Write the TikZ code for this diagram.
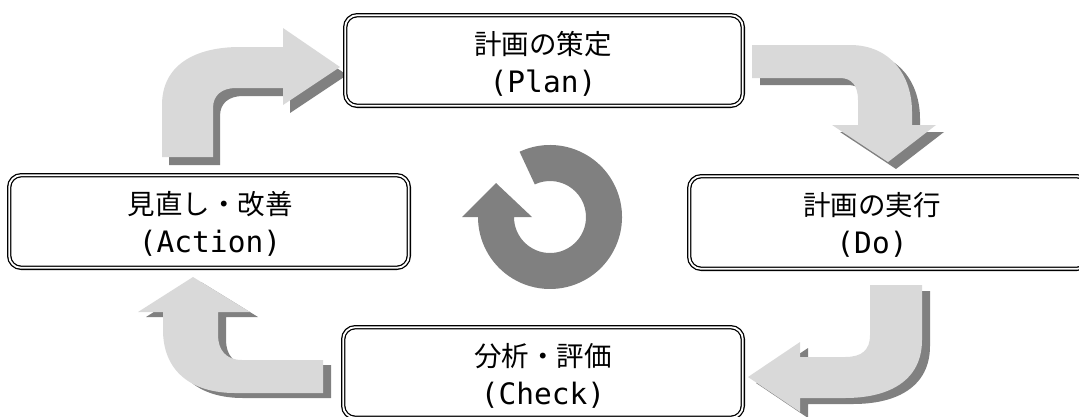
\documentclass[tikz,border=0pt]{standalone}
\usepackage{fontspec}
\usetikzlibrary{calc}
\newfontfamily\cjkfont{Noto Sans CJK JP}
\newfontfamily\monofont{DejaVu Sans Mono}
\definecolor{arrowlight}{HTML}{D9D9D9}
\definecolor{arrowdark}{HTML}{808080}
\tikzset{
  stagebox/.style={draw=black, line width=1.3pt, double=white, double distance=1.8pt, rounded corners=12pt, inner sep=0pt, outer sep=0pt},
  jpline/.style={anchor=base, inner sep=0pt, font=\cjkfont\fontsize{27.5}{30}\selectfont},
  enline/.style={anchor=base, inner sep=0pt, font=\monofont\fontsize{29.5}{32}\selectfont},
  lightfill/.style={fill=arrowlight, draw=none},
  darkfill/.style={fill=arrowdark, draw=none}
}
\begin{document}
\begin{tikzpicture}[x=1pt,y=-1pt]
\useasboundingbox (0,0) rectangle (1079,416);
\clip (0,0) rectangle (1079,416);

% ---- block arrow: Action -> Plan (top left)
\def\arrowA{(162,157) -- (162,105) .. controls (162,65) and (195,47) .. (240,47) -- (283,47) -- (283,28) -- (340,67) -- (283,105) -- (283,88) -- (236,88) .. controls (222,88) and (213,95) .. (213,108) -- (213,157) -- cycle}
\fill[darkfill, shift={(7,8)}] \arrowA;
\fill[lightfill] \arrowA;

% ---- block arrow: Plan -> Do (top right)
\def\arrowB{(752,45) -- (850,45) .. controls (890,45) and (912,75) .. (912,112) -- (912,125) -- (936,125) -- (888,162) -- (832,125) -- (858,125) -- (858,100) .. controls (858,86) and (852,78) .. (840,78) -- (752,78) -- cycle}
\fill[darkfill, shift={(8,7)}] \arrowB;
\fill[lightfill] \arrowB;

% ---- block arrow: Do -> Check (bottom right)
\def\arrowC{(870,285) -- (922,285) -- (922,340) .. controls (922,380) and (890,398) .. (845,398) -- (800,398) -- (800,412) -- (748,377) -- (800,342) -- (800,357) -- (845,357) .. controls (862,357) and (870,350) .. (870,335) -- cycle}
\fill[darkfill, shift={(8,6)}] \arrowC;
\fill[lightfill] \arrowC;

% ---- block arrow: Check -> Action (bottom left)
\def\arrowD{(323,360) -- (323,393) -- (235,393) .. controls (190,393) and (163,370) .. (163,330) -- (163,312) -- (138,312) -- (193,277) -- (250,312) -- (218,312) -- (218,335) .. controls (218,350) and (226,360) .. (242,360) -- cycle}
\fill[darkfill, shift={(8,5)}] \arrowD;
\fill[lightfill] \arrowD;

% ---- central circular arrow
\coordinate (ringc) at (550,217);
\fill[darkfill] ($(ringc)+(-115:72)$) arc[start angle=-115, end angle=180, radius=72]
  -- (462,217) -- (496,183) -- (532,217) -- (514,217)
  arc[start angle=180, end angle=-115, radius=36] -- cycle;

% ---- stage boxes
\node[stagebox, minimum width=397.6pt, minimum height=90.6pt] (planbox) at (544,60.5) {};
\node[stagebox, minimum width=399.6pt, minimum height=92.6pt] (actbox) at (209,221.5) {};
\node[stagebox, minimum width=399.6pt, minimum height=92.6pt] (dobox) at (889,222.5) {};
\node[stagebox, minimum width=399.6pt, minimum height=90.6pt] (chkbox) at (543,372.5) {};

% ---- texts
\node[jpline] (planjp) at (543,54) {計画の策定};
\node[enline] (planen) at (543,92) {(Plan)};
\node[jpline] (actjp) at (210,214) {見直し・改善};
\node[enline] (acten) at (210,252) {(Action)};
\node[jpline] (dojp) at (872,215) {計画の実行};
\node[enline] (doen) at (872,253) {(Do)};
\node[jpline] (chkjp) at (543,366) {分析・評価};
\node[enline] (chken) at (543,404) {(Check)};
\end{tikzpicture}
\end{document}
